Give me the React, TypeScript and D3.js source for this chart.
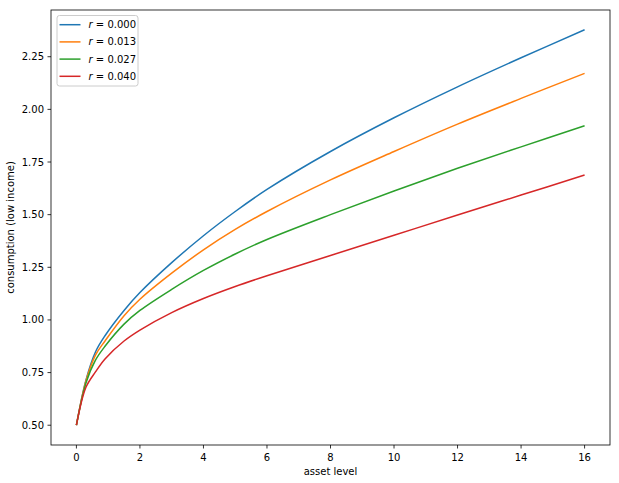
import React from "react";
import * as d3 from "d3";

const assetGrid = [0, 0.3, 0.6, 0.9, 1.5, 2, 3, 4, 5, 6, 8, 10, 12, 14, 16];
const consR0000 = [0.5, 0.714, 0.848, 0.925, 1.045, 1.13, 1.272, 1.4, 1.515, 1.62, 1.8, 1.96, 2.107, 2.245, 2.378];
const consR0013 = [0.5, 0.71, 0.833, 0.9, 1.02, 1.098, 1.222, 1.333, 1.43, 1.515, 1.665, 1.8, 1.93, 2.052, 2.171];
const consR0027 = [0.5, 0.7, 0.809, 0.875, 0.98, 1.045, 1.145, 1.235, 1.313, 1.382, 1.5, 1.612, 1.72, 1.822, 1.922];
const consR0040 = [0.5, 0.68, 0.753, 0.815, 0.9, 0.952, 1.035, 1.102, 1.159, 1.21, 1.306, 1.402, 1.498, 1.593, 1.688];
const rateLabels = ["0.000", "0.013", "0.027", "0.040"];
const xTicks = [0, 2, 4, 6, 8, 10, 12, 14, 16];
const yTicks = [0.5, 0.75, 1.0, 1.25, 1.5, 1.75, 2.0, 2.25];

const colors = ["#1f77b4", "#ff7f0e", "#2ca02c", "#d62728"];
const seriesList = [consR0000, consR0013, consR0027, consR0040];

export default function App() {
  const W = 619, H = 483;
  const left = 51, right = 610, top = 10, bottom = 445;
  const x = d3.scaleLinear().domain([-0.8, 16.8]).range([left, right]);
  const y = d3.scaleLinear().domain([0.4061, 2.4719]).range([bottom, top]);
  const line = d3
    .line<number>()
    .x((_, i) => x(assetGrid[i]))
    .y((d) => y(d))
    .curve(d3.curveCatmullRom.alpha(0.5));
  const font = "DejaVu Sans, sans-serif";
  return (
    <svg
      width={W}
      height={H}
      style={{ position: "absolute", left: 0, top: 0, background: "#fff" }}
      fontFamily={font}
    >
      <rect x={0} y={0} width={W} height={H} fill="#fff" />
      {seriesList.map((s, k) => (
        <path key={k} d={line(s) || ""} fill="none" stroke={colors[k]} strokeWidth={1.5} />
      ))}
      <rect x={left} y={top} width={right - left} height={bottom - top} fill="none" stroke="#000" strokeWidth={0.8} />
      {xTicks.map((t) => (
        <g key={"x" + t}>
          <line x1={x(t)} x2={x(t)} y1={bottom} y2={bottom + 3.5} stroke="#000" strokeWidth={0.8} />
          <text x={x(t)} y={461} textAnchor="middle" fontSize={10} fill="#000">
            {t}
          </text>
        </g>
      ))}
      {yTicks.map((t) => (
        <g key={"y" + t}>
          <line x1={left - 3.5} x2={left} y1={y(t)} y2={y(t)} stroke="#000" strokeWidth={0.8} />
          <text x={44} y={y(t)} dy="0.35em" textAnchor="end" fontSize={10} fill="#000">
            {t.toFixed(2)}
          </text>
        </g>
      ))}
      <text x={(left + right) / 2} y={475} textAnchor="middle" fontSize={10} fill="#000">
        asset level
      </text>
      <text
        transform={`translate(13.5,${(top + bottom) / 2}) rotate(-90)`}
        textAnchor="middle"
        fontSize={10}
        fill="#000"
      >
        consumption (low income)
      </text>
      <rect x={57} y={15.5} width={81} height={70.5} rx={2.5} fill="#fff" fillOpacity={0.8} stroke="#cccccc" strokeWidth={1} />
      {rateLabels.map((lab, k) => {
        const cy = 24.7 + k * 17.2;
        return (
          <g key={lab}>
            <line x1={59.5} x2={80.5} y1={cy} y2={cy} stroke={colors[k]} strokeWidth={1.5} />
            <text x={88.5} y={cy} dy="0.35em" fontSize={10} fill="#000">
              <tspan fontStyle="italic">r</tspan>
              <tspan> = {lab}</tspan>
            </text>
          </g>
        );
      })}
    </svg>
  );
}
